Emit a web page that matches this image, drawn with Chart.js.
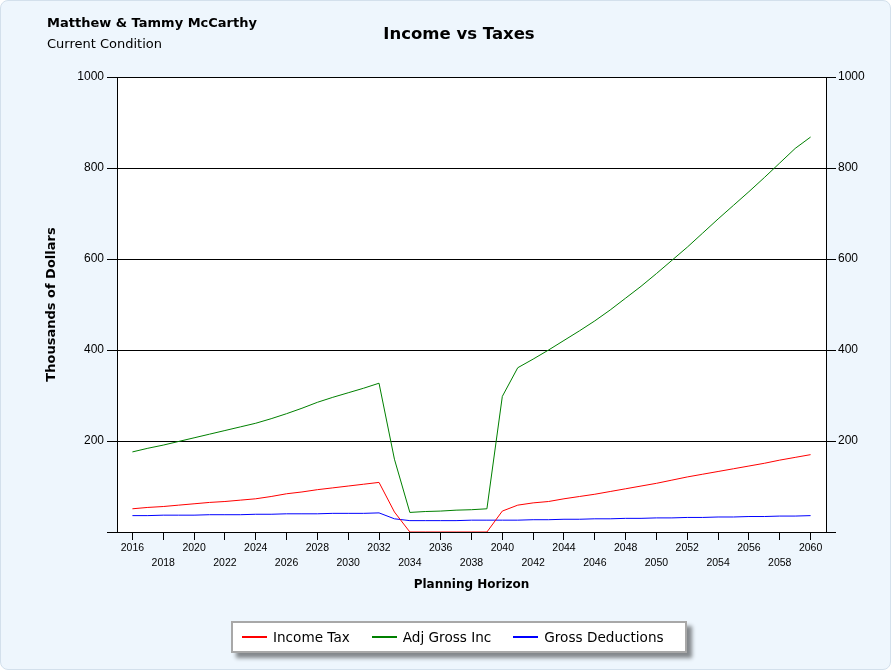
<!DOCTYPE html>
<html>
<head>
<meta charset="utf-8">
<script src="https://cdn.jsdelivr.net/npm/chart.js@4"></script>
<style>
  html, body { margin: 0; padding: 0; background: #fff; }
  #wrap {
    position: relative; width: 889px; height: 668px;
    background: #eef6fd; border: 1px solid #d3e0ec; border-radius: 8px; overflow: hidden;
  }
  canvas { position: absolute; left: -1px; top: -1px; }
  .hdr { position: absolute; font-family: "DejaVu Sans", Verdana, sans-serif; color: #000; white-space: nowrap; }
  #who { left: 46px; top: 14px; font-size: 13px; font-weight: bold; line-height: 16px; }
  #cond { left: 46px; top: 35px; font-size: 13px; line-height: 16px; }
  #title { left: 458px; top: 23px; transform: translateX(-50%); font-size: 16.5px; font-weight: bold; line-height: 20px; }
  #legend {
    position: absolute; left: 230px; top: 620px; width: 456px; height: 32px; box-sizing: border-box;
    background: #fff; border: 2px solid #a8a8a8; box-shadow: 5px 5px 4px rgba(0,0,0,0.45);
    display: flex; align-items: center; padding-left: 9px;
    font-family: "DejaVu Sans", Verdana, sans-serif; font-size: 13.6px; color: #000;
  }
  .item { display: flex; align-items: center; margin-right: 22px; white-space: nowrap; }
  .swatch { width: 25px; height: 2.5px; margin-right: 6px; }
</style>
</head>
<body>
<div id="wrap">
  <canvas id="c" width="891" height="670"></canvas>
  <div class="hdr" id="who">Matthew &amp; Tammy McCarthy</div>
  <div class="hdr" id="cond">Current Condition</div>
  <div class="hdr" id="title">Income vs Taxes</div>
  <div id="legend"></div>
</div>
<script>
// years along the planning horizon
const years = [2016, 2017, 2018, 2019, 2020, 2021, 2022, 2023, 2024, 2025,
  2026, 2027, 2028, 2029, 2030, 2031, 2032, 2033, 2034, 2035,
  2036, 2037, 2038, 2039, 2040, 2041, 2042, 2043, 2044, 2045,
  2046, 2047, 2048, 2049, 2050, 2051, 2052, 2053, 2054, 2055,
  2056, 2057, 2058, 2059, 2060];

// thousands of dollars
const incomeTax = [51, 54, 56, 59, 62, 65, 67, 70, 73, 78,
  84, 88, 93, 97, 101, 105, 109, 44, 0, 0,
  0, 0, 0, 0, 46, 59, 64, 67, 73, 78,
  83, 89, 95, 101, 107, 114, 121, 127, 133, 139,
  145, 151, 158, 164, 170];

const adjGrossInc = [176, 184, 191, 199, 207, 215, 223, 231, 239, 249,
  260, 272, 285, 296, 306, 316, 327, 160, 43, 45,
  46, 48, 49, 51, 298, 361, 380, 400, 421, 442,
  464, 488, 514, 540, 568, 597, 626, 657, 688, 718,
  748, 779, 811, 843, 868];

const grossDeductions = [36, 36, 37, 37, 37, 38, 38, 38, 39, 39,
  40, 40, 40, 41, 41, 41, 42, 29, 25, 25,
  25, 25, 26, 26, 26, 26, 27, 27, 28, 28,
  29, 29, 30, 30, 31, 31, 32, 32, 33, 33,
  34, 34, 35, 35, 36];

const yearTicks = [2016, 2018, 2020, 2022, 2024, 2026, 2028, 2030, 2032, 2034, 2036, 2038,
  2040, 2042, 2044, 2046, 2048, 2050, 2052, 2054, 2056, 2058, 2060];
const valueTicks = [0, 200, 400, 600, 800, 1000];

const toPoints = vals => vals.map((v, i) => ({ x: years[i], y: v }));

const plotBg = {
  id: 'plotBg',
  beforeDraw(chart) {
    const { ctx, chartArea: a } = chart;
    ctx.save();
    ctx.fillStyle = '#ffffff';
    ctx.fillRect(a.left, a.top, a.right - a.left, a.bottom - a.top);
    ctx.restore();
  },
};

const tickFont = { family: '"Liberation Sans", Arial, sans-serif', size: 12 };

const chart = new Chart(document.getElementById('c'), {
  type: 'line',
  data: {
    datasets: [
      { label: 'Income Tax', data: toPoints(incomeTax), borderColor: '#ff0000' },
      { label: 'Adj Gross Inc', data: toPoints(adjGrossInc), borderColor: '#008000' },
      { label: 'Gross Deductions', data: toPoints(grossDeductions), borderColor: '#0000ff' },
    ],
  },
  options: {
    responsive: false,
    animation: false,
    devicePixelRatio: 1,
    layout: { padding: { left: 44, right: 0, top: 77, bottom: 78 } },
    elements: {
      line: { borderWidth: 1, tension: 0 },
      point: { radius: 0, hoverRadius: 0 },
    },
    plugins: {
      legend: { display: false },
      tooltip: { enabled: false },
    },
    scales: {
      x: {
        type: 'linear',
        min: 2015,
        max: 2061,
        afterBuildTicks: s => { s.ticks = yearTicks.map(v => ({ value: v })); },
        afterFit: s => { s.height = 60; },
        grid: { drawOnChartArea: false, color: '#000', tickLength: 8 },
        border: { display: true, color: '#000' },
        ticks: {
          autoSkip: false,
          maxRotation: 0,
          padding: 1,
          color: '#000',
          font: { family: '"Liberation Sans", Arial, sans-serif', size: 10.5, lineHeight: 1.43 },
          callback: (v, i) => (i % 2 === 0 ? [String(v), ''] : ['', String(v)]),
        },
        title: {
          display: true,
          text: 'Planning Horizon',
          color: '#000',
          padding: 0,
          font: { family: '"DejaVu Sans", Verdana, sans-serif', size: 12, weight: 'bold' },
        },
      },
      y: {
        position: 'left',
        min: 0,
        max: 1000,
        afterBuildTicks: s => { s.ticks = valueTicks.map(v => ({ value: v })); },
        afterFit: s => { s.width = 73; },
        grid: { color: '#000', tickLength: 10 },
        border: { display: true, color: '#000' },
        ticks: { padding: 3, color: '#000', font: tickFont, callback: v => (v === 0 ? '' : v) },
        title: {
          display: true,
          text: 'Thousands of Dollars',
          color: '#000',
          padding: 0,
          font: { family: '"DejaVu Sans", Verdana, sans-serif', size: 13, weight: 'bold' },
        },
      },
      y2: {
        position: 'right',
        min: 0,
        max: 1000,
        afterBuildTicks: s => { s.ticks = valueTicks.map(v => ({ value: v })); },
        afterFit: s => { s.width = 65; },
        grid: { drawOnChartArea: false, color: '#000', tickLength: 10 },
        border: { display: true, color: '#000' },
        ticks: { padding: 2, color: '#000', font: tickFont, callback: v => (v === 0 ? '' : v) },
      },
    },
  },
  plugins: [plotBg],
});

// legend box built from the chart's datasets
const legend = document.getElementById('legend');
chart.data.datasets.forEach(ds => {
  const item = document.createElement('div');
  item.className = 'item';
  const sw = document.createElement('span');
  sw.className = 'swatch';
  sw.style.background = ds.borderColor;
  const txt = document.createElement('span');
  txt.textContent = ds.label;
  item.appendChild(sw);
  item.appendChild(txt);
  legend.appendChild(item);
});
</script>
</body>
</html>
